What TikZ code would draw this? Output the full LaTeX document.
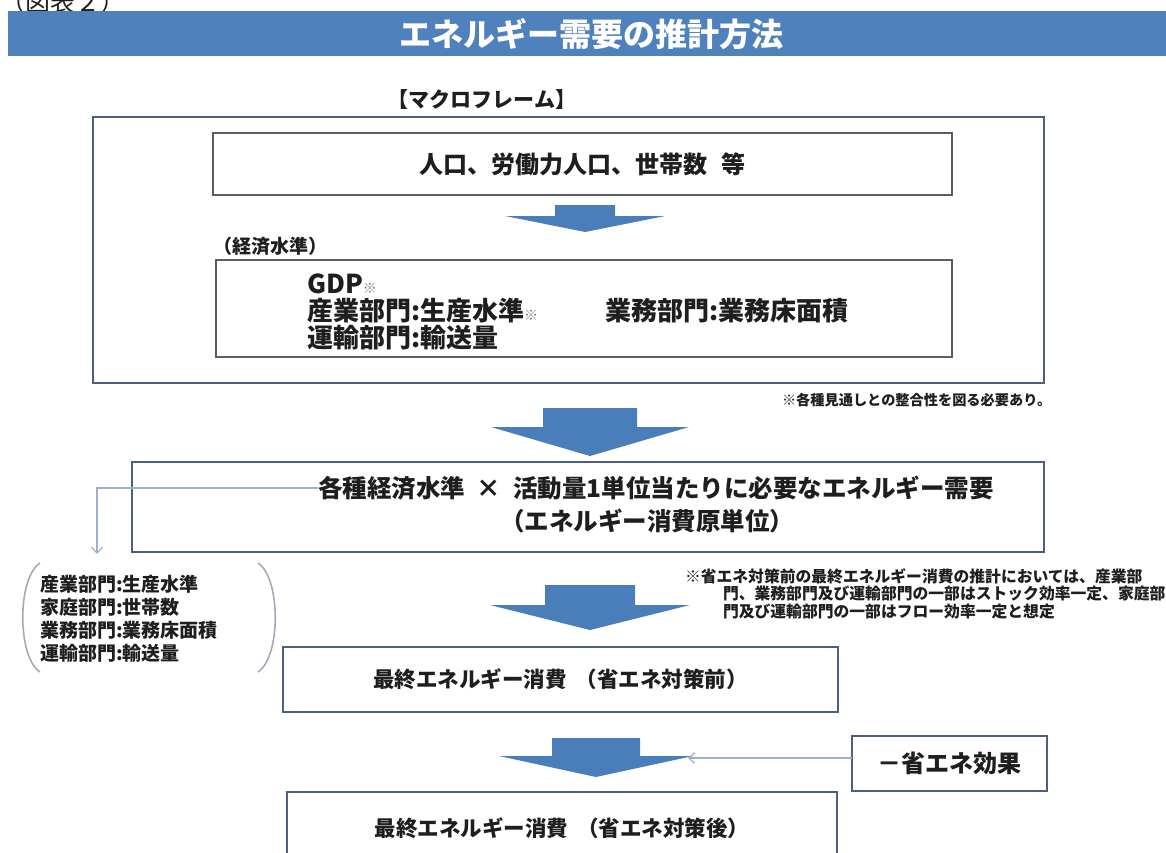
\documentclass[tikz,border=0pt]{standalone}
\usepackage{fontspec}
\setmainfont{Noto Sans CJK JP}
\newfontfamily\jp{Noto Sans CJK JP}
\usetikzlibrary{arrows.meta}
\definecolor{titleblue}{HTML}{4F81BD}
\definecolor{arrowblue}{HTML}{4A7EBB}
\definecolor{boxblue}{HTML}{4A5F82}
\definecolor{boxgray}{HTML}{5A5E66}
\definecolor{connblue}{HTML}{9DB0CE}
\definecolor{parencol}{HTML}{A3AAB8}
\definecolor{txtcol}{HTML}{1E1E1E}
\newcommand\barrow[6]{\fill[arrowblue] ({#1-#5},#2) -- ({#1+#5},#2) -- ({#1+#5},#3) -- ({#1+#6},#3) -- (#1,#4) -- ({#1-#6},#3) -- ({#1-#5},#3) -- cycle;}
\newcommand\fsz[1]{\fontsize{#1pt}{#1pt}\selectfont}
\begin{document}
\begin{tikzpicture}[x=1pt,y=-1pt,
  every node/.style={inner sep=0pt, outer sep=0pt, text=txtcol},
  bbox/.style={draw=boxblue, line width=2.4pt, anchor=north west},
  gbox/.style={draw=boxgray, line width=2.2pt, anchor=north west},
  conn/.style={draw=connblue, line width=1.2pt, -{Straight Barb[length=6pt,width=11pt]}},
  main/.style={font=\jp\bfseries\fsz{24.5}},
  gdp/.style={font=\jp\bfseries\fsz{26}, anchor=west},
  mid/.style={font=\jp\bfseries\fsz{21.5}},
  small/.style={font=\jp\bfseries\fsz{19}},
  tiny/.style={font=\jp\bfseries\fsz{15.8}, anchor=west}]
\useasboundingbox (0,0) rectangle (1166,853);
% figure label (cut at top)
\node[font=\jp\fsz{25}, anchor=south west] (fig) at (0,14) {（図表２）};
% title bar
\fill[titleblue] (8,11) rectangle (1166,56);
\node[font=\jp\bfseries\fsz{32}, text=white] (title) at (591,34) {エネルギー需要の推計方法};
% macro frame
\node[font=\jp\bfseries\fsz{21}] (macro) at (482,100) {【マクロフレーム】};
\node[bbox, minimum width=951pt, minimum height=266pt] (frame) at (93,117) {};
\node[gbox, minimum width=739pt, minimum height=62pt] (b1) at (213,133) {};
\node[font=\jp\bfseries\fsz{24}] (t1) at (b1.center) {人口、労働力人口、世帯数\hspace{0.6em}等};
\barrow{585}{205}{216}{232}{30}{80}
\node[small, anchor=west] (keizai) at (213,246) {（経済水準）};
\node[gbox, minimum width=736pt, minimum height=97pt] (b2) at (216,260) {};
\node[gdp] (t2a) at (307,284) {GDP{\fsz{14}\color{gray}※}};
\node[gdp] (t2b) at (307,311) {産業部門:生産水準{\fsz{14}\color{gray}※}};
\node[gdp] (t2c) at (605,311) {業務部門:業務床面積};
\node[gdp] (t2d) at (307,338) {運輸部門:輸送量};
\node[font=\jp\bfseries\fsz{14.2}, anchor=west] (note1) at (782,400) {※各種見通しとの整合性を図る必要あり。};
% arrow 2
\barrow{590}{408}{427}{456}{47}{99}
% box 3
\node[bbox, minimum width=912pt, minimum height=90pt] (b3) at (132,462) {};
\node[main, anchor=west] (t3a) at (318,488) {各種経済水準\hspace{12pt}×\hspace{12pt}活動量1単位当たりに必要なエネルギー需要};
\node[main, anchor=west] (t3b) at (500,521) {（エネルギー消費原単位）};
\coordinate (brk) at (97,554);
\draw[conn] (t3a.west) -| (brk);
% bracket list
\draw[parencol, line width=1.6pt] (40,563) .. controls (17,578) and (17,657) .. (40,672);
\draw[parencol, line width=1.6pt] (258,563) .. controls (281,578) and (281,657) .. (258,672);
\node[small, anchor=west] (l1) at (40,584) {産業部門:生産水準};
\node[small, anchor=west] (l2) at (40,607) {家庭部門:世帯数};
\node[small, anchor=west] (l3) at (40,630) {業務部門:業務床面積};
\node[small, anchor=west] (l4) at (40,653) {運輸部門:輸送量};
% right note
\node[tiny] (n1) at (685,576) {※省エネ対策前の最終エネルギー消費の推計においては、産業部};
\node[tiny] (n2) at (723,594) {門、業務部門及び運輸部門の一部はストック効率一定、家庭部};
\node[tiny] (n3) at (723,612) {門及び運輸部門の一部はフロー効率一定と想定};
% arrow 3
\barrow{590}{585}{605}{630}{45}{100}
% box 4
\node[bbox, minimum width=555pt, minimum height=65pt] (b4) at (283,647) {};
\node[mid] (t4) at (b4.center) {最終エネルギー消費\hspace{0.4em}（省エネ対策前）};
% arrow 4
\barrow{596}{738}{756}{777}{44}{97}
% effect box
\node[bbox, minimum width=195pt, minimum height=55pt] (eff) at (852,736) {};
\node[font=\jp\bfseries\fsz{24}] (efft) at (eff.center) {－省エネ効果};
\coordinate (effend) at (688,758);
\draw[conn] (effend -| eff.west) -- (effend);
% box 5 (cut at bottom)
\node[bbox, minimum width=550pt, minimum height=90pt] (b5) at (287,792) {};
\node[mid] (t5) at (562,828) {最終エネルギー消費\hspace{0.4em}（省エネ対策後）};
\end{tikzpicture}
\end{document}
